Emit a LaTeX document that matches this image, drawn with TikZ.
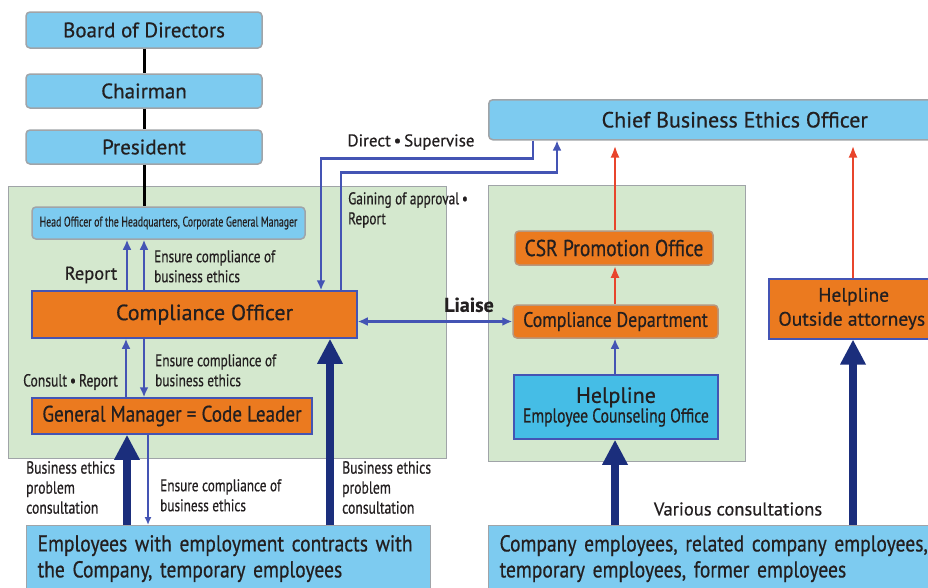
\documentclass[tikz,border=0pt]{standalone}
\usepackage{fontspec}
\setmainfont{PT Sans}[FakeBold=0.6]
\newfontfamily\narrowfont[FakeStretch=0.78, FakeBold=0.6]{PT Sans}
\newfontfamily\semifont[FakeStretch=0.85, FakeBold=0.6]{PT Sans}
\newfontfamily\tinyfont[FakeStretch=0.7, FakeBold=0.4]{PT Sans}
\usetikzlibrary{arrows.meta, positioning}
\definecolor{boxBlue}{HTML}{7DCBF0}
\definecolor{helpBlue}{HTML}{45BDE6}
\definecolor{boxOrange}{HTML}{EB7A1F}
\definecolor{panelGreen}{HTML}{D4E8CE}
\definecolor{lineGray}{HTML}{A0A4A8}
\definecolor{edgeBlue}{HTML}{4454B4}
\definecolor{navy}{HTML}{1B2E7C}
\definecolor{arrowRed}{HTML}{E8452C}
\definecolor{txt}{HTML}{231F20}
\tikzset{
    topBox/.style={draw=lineGray, fill=boxBlue, rounded corners=4pt, line width=1.5pt, text=txt, inner sep=0pt, font=\fontsize{21}{23}\selectfont},
    orangeBox/.style={draw=edgeBlue, fill=boxOrange, line width=1.5pt, text=txt, inner sep=0pt, font=\fontsize{22}{24}\selectfont},
    roundOrange/.style={orangeBox, draw=lineGray!70!boxOrange, rounded corners=4pt, font=\semifont\fontsize{21}{23}\selectfont},
    helpBox/.style={draw=edgeBlue, fill=helpBlue, line width=1.5pt, text=txt, inner sep=0pt, align=center},
    panel/.style={draw=lineGray, fill=panelGreen, line width=1.2pt, inner sep=0pt},
    empBox/.style={draw=lineGray, fill=boxBlue, line width=1.2pt, text=txt, inner xsep=11pt, inner ysep=0pt, align=left, anchor=north west, font=\semifont\fontsize{23}{26}\selectfont},
    orgLine/.style={line width=3pt, black},
    thinArrow/.style={-{Latex[length=10pt, width=9pt]}, line width=2.8pt, edgeBlue},
    liaiseArrow/.style={{Latex[length=10pt, width=9pt]}-{Latex[length=10pt, width=9pt]}, line width=2.8pt, edgeBlue},
    redArrow/.style={-{Latex[length=12pt, width=9pt]}, line width=2.6pt, arrowRed},
    bigArrow/.style={-{Triangle[length=25pt, width=24pt]}, line width=8pt, navy},
    smallLabel/.style={text=txt, align=left, inner sep=0pt, font=\narrowfont\fontsize{17}{20}\selectfont},
    plainLabel/.style={text=txt, inner sep=0pt, font=\fontsize{17}{19}\selectfont},
}

\begin{document}
\begin{tikzpicture}[x=1pt, y=-1pt]
    \useasboundingbox (0,0) rectangle (928,587);
    \clip (0,0) rectangle (928,587);

    % green panels
    \node[panel, anchor=north west, minimum width=438, minimum height=272] (leftPanel) at (8,186) {};
    \node[panel, anchor=north west, minimum width=257, minimum height=276] (rightPanel) at (488,185) {};

    % board line
    \node[topBox, minimum width=236, minimum height=36] (board) at (144,30) {Board of Directors};
    \node[topBox, minimum width=236, minimum height=34] (chair) at (144,91) {Chairman};
    \node[topBox, minimum width=236, minimum height=34] (pres) at (144,147) {President};
    \node[topBox, minimum width=273, minimum height=32, font=\tinyfont\fontsize{14}{16}\selectfont] (head) at (168.5,223) {Head Officer of the Headquarters, Corporate General Manager};

    \draw[orgLine] (board) -- (chair);
    \draw[orgLine] (chair) -- (pres);
    \draw[orgLine] (pres.south) -- (pres.south |- head.north);

    % left side
    \node[orangeBox, minimum width=325, minimum height=47] (co) at (194.5,314.5) {\hspace*{20pt}Compliance Officer};
    \node[orangeBox, minimum width=280, minimum height=36, font=\semifont\fontsize{22.5}{24}\selectfont] (gm) at (172,416) {General Manager = Code Leader};

    \draw[thinArrow] (co.north -| 127,0) -- (head.south -| 127,0);
    \draw[thinArrow] (co.north -| 144,0) -- (head.south -| 144,0);
    \node[plainLabel, font=\fontsize{18.5}{20}\selectfont] (reportLbl) at (91,275) {Report};
    \node[smallLabel, anchor=north west] (ensureA) at (154,250) {Ensure compliance of\\business ethics};

    \draw[thinArrow] (gm.north -| 126,0) -- (co.south -| 126,0);
    \draw[thinArrow] (co.south -| 144,0) -- (gm.north -| 144,0);
    \node[smallLabel, anchor=east, font=\narrowfont\fontsize{17.5}{20}\selectfont] (consultLbl) at (118,382) {Consult\,•\,Report};
    \node[smallLabel, anchor=north west] (ensureB) at (155,354) {Ensure compliance of\\business ethics};

    % chief officer
    \node[topBox, anchor=north west, minimum width=492, minimum height=40, font=\fontsize{22}{24}\selectfont] (chief) at (488,99) {Chief Business Ethics Officer};

    \draw[thinArrow] (chief.south -| 533,0) |- ++(-212,18) -- (co.north -| 321,0);
    \draw[thinArrow] (co.north -| 341,0) |- ++(216,-118) -- (chief.south -| 557,0);
    \node[plainLabel] (directLbl) at (411,142) {Direct\,•\,Supervise};
    \node[smallLabel, anchor=north west] (gainLbl) at (348,192) {Gaining of approval\,•\\Report};

    % right side
    \node[roundOrange, minimum width=198, minimum height=34, font=\semifont\fontsize{23}{25}\selectfont] (csr) at (614,248) {CSR Promotion Office};
    \node[roundOrange, minimum width=205, minimum height=33] (cd) at (615.5,321.5) {Compliance Department};
    \node[helpBox, minimum width=204, minimum height=64] (hlec) at (616,407) {{\fontsize{22}{25}\selectfont Helpline}\\{\narrowfont\fontsize{20}{22}\selectfont Employee Counseling Office}};
    \node[orangeBox, anchor=north west, minimum width=170, minimum height=60, align=center, font=\fontsize{19.5}{24}\selectfont] (att) at (768,278) {Helpline\\\hspace*{-4pt}Outside attorneys};

    \draw[redArrow, shorten >=5pt] (csr.north -| 615,0) -- (chief.south -| 615,0);
    \draw[redArrow] (cd.north -| 615,0) -- (csr.south -| 615,0);
    \draw[thinArrow] (hlec.north -| 615,0) -- (cd.south -| 615,0);
    \draw[redArrow, shorten >=5pt] (att.north -| 853,0) -- (chief.south -| 853,0);

    \draw[liaiseArrow] (co.east |- cd.west) -- node[pos=0.72, above=8pt, font=\bfseries\fontsize{20}{22}\selectfont, text=txt, inner sep=0pt] {Liaise} (cd.west);

    % employees
    \node[empBox, text width=382, minimum height=66] (empL) at (26,525) {Employees with employment contracts with\\the Company, temporary employees};
    \node[empBox, text width=478, minimum height=66] (empR) at (488,525) {Company employees, related company employees,\\temporary employees, former employees};

    \draw[bigArrow] (empL.north -| 127,0) -- (gm.south -| 127,0);
    \draw[bigArrow] (empL.north -| 330,0) -- (co.south -| 330,0);
    \draw[bigArrow] (empR.north -| 615,0) -- (hlec.south -| 615,0);
    \draw[bigArrow] (empR.north -| 853,0) -- (att.south -| 853,0);
    \draw[thinArrow, line width=1.6pt, -{Latex[length=8pt, width=7pt]}] (gm.south -| 148,0) -- (empL.north -| 148,0);

    \node[smallLabel, anchor=north west, font=\narrowfont\fontsize{17.5}{20}\selectfont] (probA) at (26,461) {Business ethics\\problem\\consultation};
    \node[smallLabel, anchor=north west] (ensureC) at (160,479) {Ensure compliance of\\business ethics};
    \node[smallLabel, anchor=north west, font=\narrowfont\fontsize{17.5}{20}\selectfont] (probB) at (342,461) {Business ethics\\problem\\consultation};
    \node[plainLabel, font=\fontsize{18.5}{20}\selectfont] (variousLbl) at (738,509) {Various consultations};

\end{tikzpicture}
\end{document}
